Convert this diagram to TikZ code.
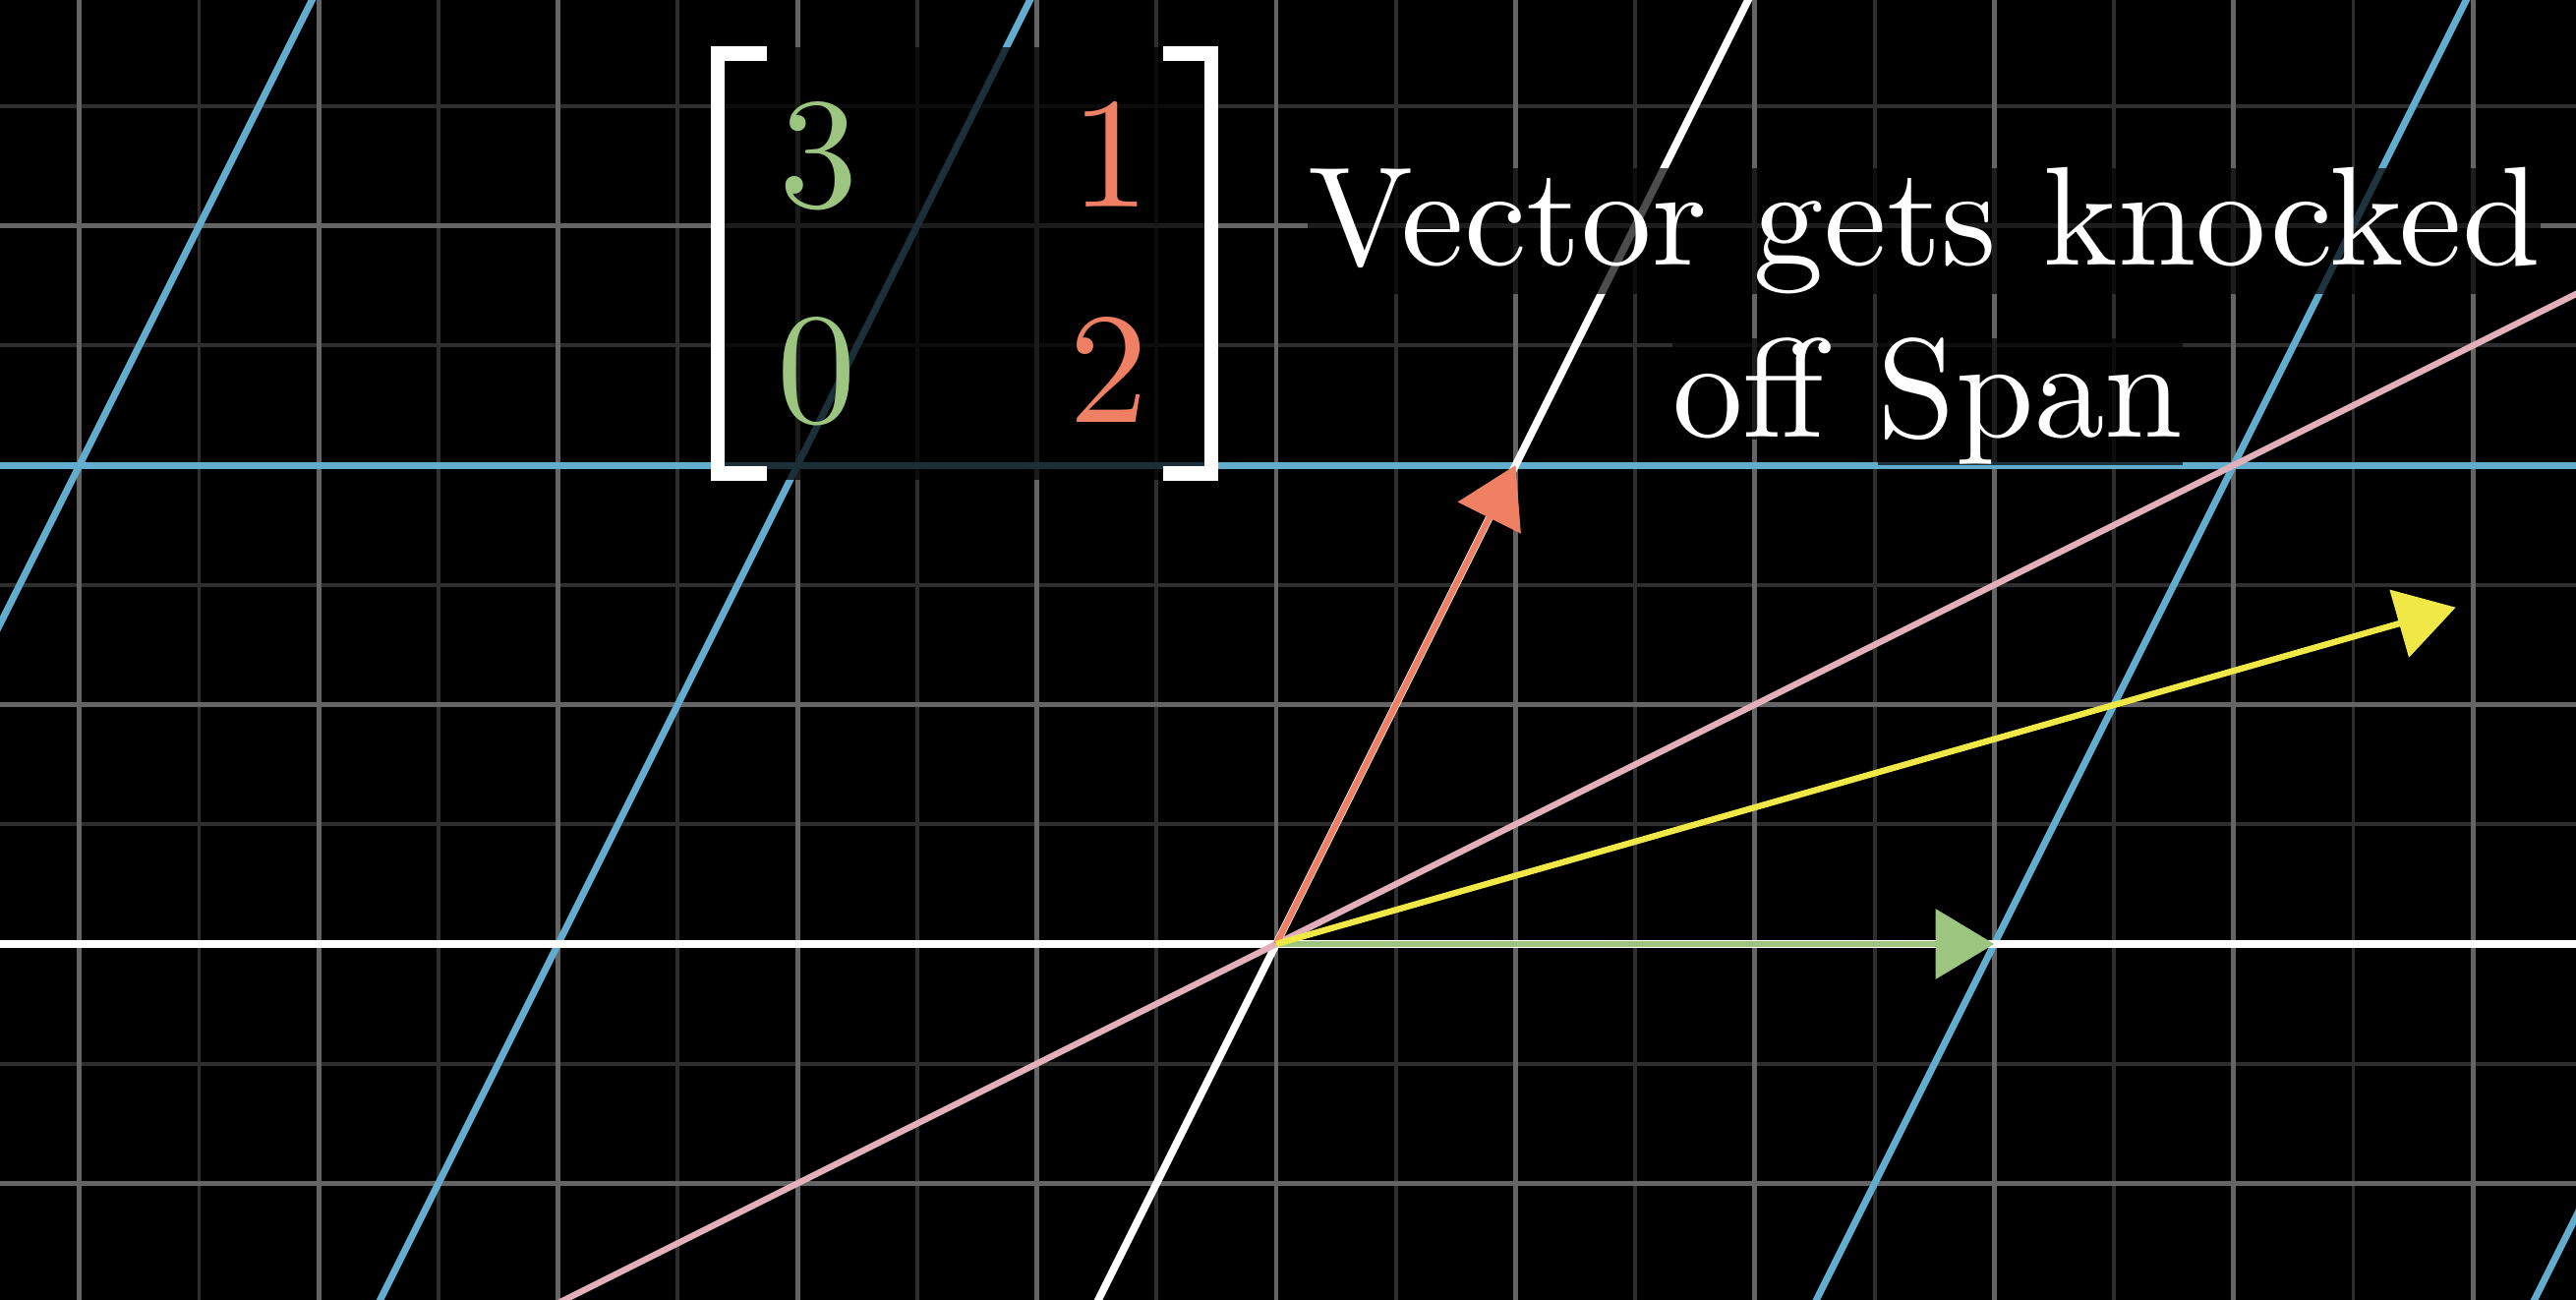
\documentclass[tikz,border=0pt]{standalone}
\usetikzlibrary{arrows.meta}
\definecolor{bluel}{RGB}{98,172,205}
\definecolor{gridc}{RGB}{100,100,100}
\definecolor{gridh}{RGB}{46,46,46}
\definecolor{pinkc}{RGB}{226,176,186}
\definecolor{yelc}{RGB}{240,232,70}
\definecolor{greenc}{RGB}{156,198,128}
\definecolor{orangec}{RGB}{240,128,100}
\tikzset{
  unitgrid/.style={gridc, line width=1.4pt},
  halfgrid/.style={gridh, line width=1.1pt},
  tline/.style={bluel, line width=2pt},
  axisline/.style={white, line width=2.2pt},
  spanline/.style={pinkc, line width=1.8pt},
  vec/.style={line width=1.8pt, -{Triangle[length=17pt,width=20pt]}},
  bracket/.style={white, line width=4pt, line join=miter, line cap=butt},
  entry/.style={scale=4.57, inner sep=0pt, anchor=base},
  txt/.style={scale=4.07, inner sep=0pt, text=white, fill=black, fill opacity=0.7, text opacity=1},
}
\begin{document}
\begin{tikzpicture}[x=0.01cm,y=-0.01cm]
\useasboundingbox (0,0) rectangle (2620,1322);
\fill[black] (0,0) rectangle (2620,1322);
\begin{scope}
\clip (0,0) rectangle (2620,1322);
\begin{scope}[shift={(1298,960)}, x=2.433cm, y=2.433cm]
  % background grid
  \foreach \i in {-5.5,-4.5,-3.5,-2.5,-1.5,-0.5,0.5,1.5,2.5,3.5,4.5,5.5}
    \draw[halfgrid] (\i,-2) -- (\i,4.5);
  \foreach \j in {-1.5,-0.5,0.5,1.5,2.5,3.5}
    \draw[halfgrid] (-6,\j) -- (6,\j);
  \foreach \i in {-6,...,6}
    \draw[unitgrid] (\i,-2) -- (\i,4.5);
  \foreach \j in {-2,...,4}
    \draw[unitgrid] (-6,\j) -- (6,\j);
  % transformed grid lines
  \foreach \k in {-2,-1,1,2}
    \draw[tline] ({3*\k-1},-2) -- ({3*\k+2.25},4.5);
  \draw[tline] (-6,2) -- (6,2);
  % transformed axes
  \draw[axisline] (-6,0) -- (6,0);
  \draw[axisline] (-1,-2) -- (2.25,4.5);
  % span line
  \draw[spanline] (-6,-3) -- (6,3);
  % vectors
  \coordinate (O) at (0,0);
  \coordinate (I) at (3,0);
  \coordinate (J) at (1,2);
  \coordinate (V) at (4.928,1.406);
  \draw[vec, greenc] (O) -- (I);
  \draw[vec, orangec] (O) -- (J);
  \draw[vec, yelc] (O) -- (V);
\end{scope}
\end{scope}
% matrix
\fill[black, fill opacity=0.72] (723,48) rectangle (1239,488);
\draw[bracket] (780,54.5) -- (730,54.5) -- (730,481.5) -- (780,481.5);
\draw[bracket] (1183,54.5) -- (1232,54.5) -- (1232,481.5) -- (1183,481.5);
\node[entry, text=greenc] (a11) at (833,211) {3};
\node[entry, text=orangec] (a12) at (1130,211) {1};
\node[entry, text=greenc] (a21) at (831,430) {0};
\node[entry, text=orangec] (a22) at (1128,430) {2};
% caption
\node[txt, anchor=base] (l1) at (1957,270) {Vector gets knocked};
\node[txt, anchor=base east] (l2a) at (1859,445) {off};
\node[txt, anchor=base west] (l2b) at (1907,445) {Span};
\end{tikzpicture}
\end{document}
